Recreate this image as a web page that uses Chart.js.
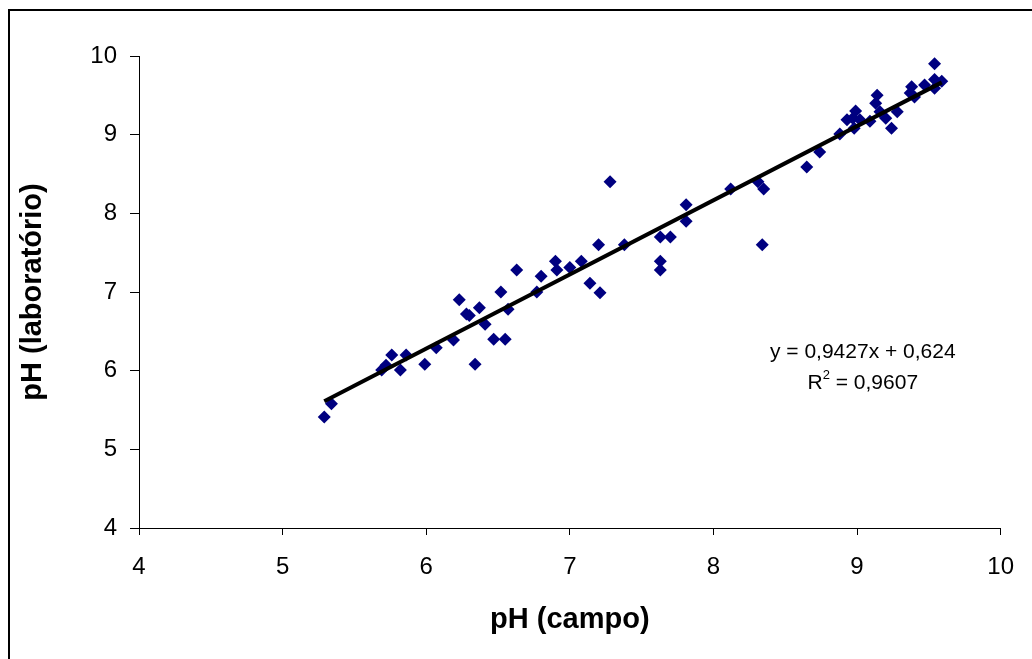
<!DOCTYPE html>
<html>
<head>
<meta charset="utf-8">
<script src="https://cdn.jsdelivr.net/npm/chart.js@4"></script>
<style>
  html, body { margin: 0; padding: 0; background: #fff; }
  #wrap { width: 1032px; height: 659px; }
</style>
</head>
<body>
<div id="wrap"><canvas id="phChart" width="1032" height="659"></canvas></div>
<script>
// pH medido no campo vs. laboratório
const phCampo = [5.29, 5.34, 5.69, 5.72, 5.76, 5.82, 5.86, 5.99, 6.07, 6.19,
                 6.23, 6.28, 6.30, 6.34, 6.37, 6.41, 6.47, 6.52, 6.55, 6.57,
                 6.63, 6.77, 6.80, 6.90, 6.91, 7.00, 7.08, 7.14, 7.20, 7.21,
                 7.28, 7.38, 7.63, 7.63, 7.63, 7.70, 7.81, 7.81, 8.12, 8.31,
                 8.35, 8.34, 8.65, 8.74, 8.88, 8.93, 8.99, 8.98, 8.97, 9.02,
                 9.09, 9.13, 9.14, 9.16, 9.20, 9.24, 9.28, 9.37, 9.38, 9.40,
                 9.47, 9.54, 9.54, 9.54, 9.59];
const phLab   = [5.41, 5.58, 6.01, 6.07, 6.20, 6.01, 6.20, 6.08, 6.29, 6.39,
                 6.90, 6.72, 6.70, 6.08, 6.80, 6.59, 6.40, 7.00, 6.40, 6.78,
                 7.28, 7.00, 7.20, 7.39, 7.28, 7.31, 7.39, 7.11, 7.60, 6.99,
                 8.40, 7.60, 7.70, 7.39, 7.28, 7.70, 8.11, 7.90, 8.31, 8.40,
                 8.31, 7.60, 8.59, 8.78, 9.01, 9.19, 9.30, 9.08, 9.21, 9.19,
                 9.17, 9.40, 9.50, 9.29, 9.21, 9.08, 9.29, 9.53, 9.61, 9.48,
                 9.63, 9.90, 9.70, 9.59, 9.68];

// linha de tendência (Excel)
const trendCoef = [0.9427, 0.624];   // inclinação, intercepto
const trendR2 = 0.9607;
const axisTicks = [4, 5, 6, 7, 8, 9, 10];

const fmt = (v, d) => v.toFixed(d).replace('.', ',');

const points = phCampo.map((x, i) => ({ x: x, y: phLab[i] }));
const xMin = Math.min(...phCampo), xMax = Math.max(...phCampo);
const trend = [xMin, xMax].map(x => ({ x: x, y: trendCoef[0] * x + trendCoef[1] }));

const FONT = '"Liberation Sans", Arial, sans-serif';

const frameAndLabel = {
  id: 'frameAndLabel',
  beforeDraw(chart) {
    const ctx = chart.ctx;
    ctx.save();
    ctx.fillStyle = '#fff';
    ctx.fillRect(0, 0, chart.width, chart.height);
    ctx.strokeStyle = '#000';
    ctx.lineWidth = 2;
    ctx.beginPath();
    ctx.moveTo(9, chart.height);
    ctx.lineTo(9, 10);
    ctx.lineTo(chart.width, 10);
    ctx.stroke();
    ctx.restore();
  },
  afterDatasetsDraw(chart) {
    const ctx = chart.ctx;
    const xs = chart.scales.x, ys = chart.scales.y;
    const cx = xs.getPixelForValue(9.04);
    const y1 = ys.getPixelForValue(6.24);
    const y2 = ys.getPixelForValue(5.845);
    ctx.save();
    ctx.fillStyle = '#000';
    ctx.textBaseline = 'middle';
    ctx.font = '21px ' + FONT;
    ctx.textAlign = 'center';
    ctx.fillText('y = ' + fmt(trendCoef[0], 4) + 'x + ' + fmt(trendCoef[1], 3), cx, y1);
    // R² com expoente menor
    const a = 'R', b = ' = ' + fmt(trendR2, 4);
    const wa = ctx.measureText(a).width, wb = ctx.measureText(b).width;
    ctx.font = '13px ' + FONT;
    const ws = ctx.measureText('2').width;
    const x0 = cx - (wa + ws + wb) / 2;
    ctx.textAlign = 'left';
    ctx.font = '21px ' + FONT;
    ctx.fillText(a, x0, y2);
    ctx.font = '13px ' + FONT;
    ctx.fillText('2', x0 + wa, y2 - 7);
    ctx.font = '21px ' + FONT;
    ctx.fillText(b, x0 + wa + ws, y2);
    ctx.restore();
  }
};

const tickFont = { family: FONT, size: 24 };
const titleFont = { family: FONT, size: 29, weight: 'bold' };

new Chart(document.getElementById('phChart').getContext('2d'), {
  type: 'scatter',
  data: {
    datasets: [
      {
        label: 'pH',
        data: points,
        pointStyle: 'rectRot',
        pointRadius: 6.5,
        pointBackgroundColor: '#000080',
        pointBorderColor: '#000080',
        pointBorderWidth: 0,
        order: 2
      },
      {
        label: 'Tendência',
        type: 'line',
        data: trend,
        borderColor: '#000',
        borderWidth: 4,
        pointRadius: 0,
        fill: false,
        order: 1
      }
    ]
  },
  options: {
    responsive: false,
    animation: false,
    layout: { padding: { left: 0, top: 56, right: 28, bottom: 0 } },
    plugins: { legend: { display: false }, tooltip: { enabled: false } },
    scales: {
      x: {
        type: 'linear',
        min: 4, max: 10,
        afterBuildTicks: s => { s.ticks = axisTicks.map(v => ({ value: v })); },
        afterFit: s => { s.height = 131; },
        grid: { drawOnChartArea: false, drawTicks: true, tickLength: 7, color: '#000' },
        border: { display: true, color: '#000', width: 1 },
        ticks: { color: '#000', font: tickFont, padding: 18, maxRotation: 0 },
        title: { display: true, text: 'pH (campo)', color: '#000', font: titleFont, padding: { top: 0, bottom: 22 } }
      },
      y: {
        type: 'linear',
        min: 4, max: 10,
        afterBuildTicks: s => { s.ticks = axisTicks.map(v => ({ value: v })); },
        afterFit: s => { s.width = 139; },
        grid: { drawOnChartArea: false, drawTicks: true, tickLength: 9, color: '#000' },
        border: { display: true, color: '#000', width: 1 },
        ticks: { color: '#000', font: tickFont, padding: 13 },
        title: { display: true, text: 'pH (laboratório)', color: '#000', font: titleFont, padding: { top: 16, bottom: 0 } }
      }
    }
  },
  plugins: [frameAndLabel]
});
</script>
</body>
</html>
